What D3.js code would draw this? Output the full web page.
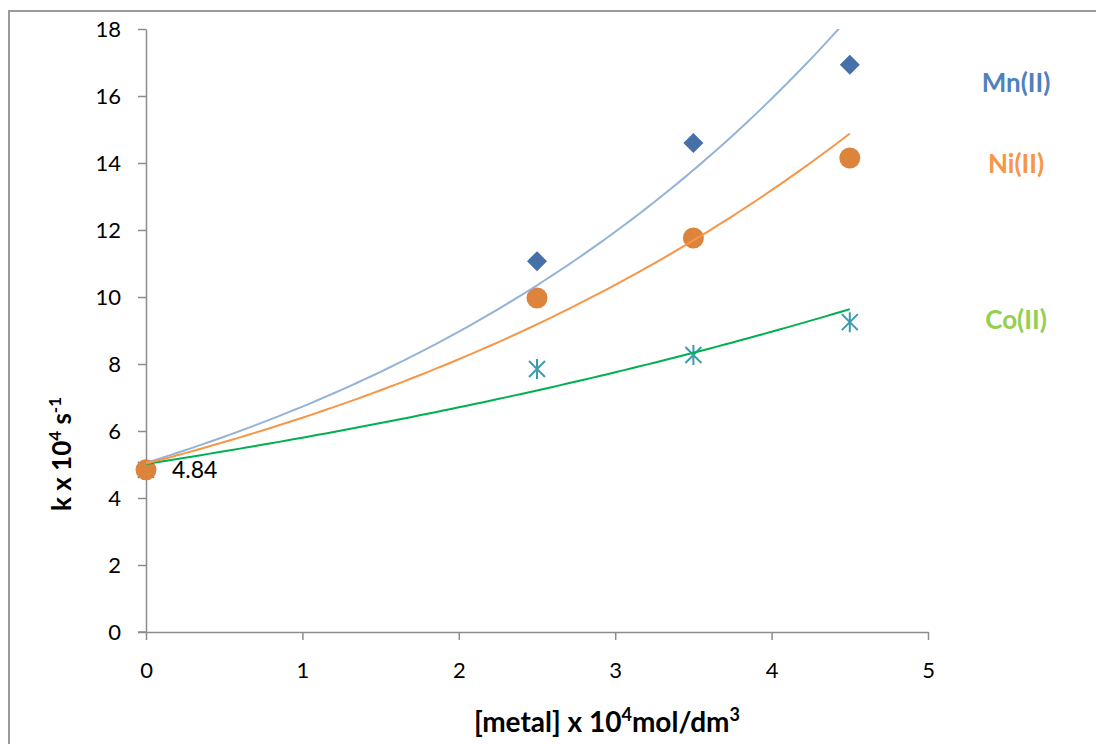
<!DOCTYPE html>
<html>
<head>
<meta charset="utf-8">
<script src="https://cdn.jsdelivr.net/npm/d3@7"></script>
<style>
  body { margin: 0; background: #fff; }
  svg { display: block; font-family: Lato, "Liberation Sans", sans-serif; }
</style>
</head>
<body>
<svg id="chart" width="1096" height="744"></svg>
<script>
// concentration of metal x 10^4 (mol/dm3)
const conc = [0, 2.5, 3.5, 4.5]
// rate constant k x 10^4 (s-1)
const mnK = [4.84, 11.07, 14.6, 16.93]
const niK = [4.84, 9.97, 11.76, 14.15]
const coK = [4.84, 7.85, 8.27, 9.25]

const xTicks = [0, 1, 2, 3, 4, 5]
const yTicks = [0, 2, 4, 6, 8, 10, 12, 14, 16, 18]

const series = [
  { name: 'Mn(II)', k: mnK, marker: 'diamond', fill: '#4570a8', line: '#95b3d7', label: '#4f81bd', ly: 83 },
  { name: 'Co(II)', k: coK, marker: 'star', fill: '#3d9bb0', line: '#00b050', label: '#92d050', ly: 320 },
  { name: 'Ni(II)', k: niK, marker: 'circle', fill: '#dc833c', line: '#f79646', label: '#f79646', ly: 164 }
]

const svg = d3.select('#chart')
const margin = { left: 146, top: 29, right: 168, bottom: 112 }
const width = 1096, height = 744

const x = d3.scaleLinear().domain([0, 5]).range([margin.left, width - margin.right])
const y = d3.scaleLinear().domain([0, 18]).range([height - margin.bottom, margin.top])

// outer frame
svg.append('rect')
  .attr('x', 9).attr('y', 11)
  .attr('width', 1200).attr('height', 800)
  .attr('fill', 'none')
  .attr('stroke', '#9a9a9a')
  .attr('stroke-width', 2)

svg.append('clipPath').attr('id', 'plot')
  .append('rect')
  .attr('x', x(0)).attr('y', y(18))
  .attr('width', x(5) - x(0)).attr('height', y(0) - y(18))

// axes
const xAxis = svg.append('g')
  .attr('transform', `translate(0,${y(0)})`)
  .call(d3.axisBottom(x).tickValues(xTicks).tickFormat(d3.format('d'))
    .tickSize(8).tickSizeOuter(0).tickPadding(22))
const yAxis = svg.append('g')
  .attr('transform', `translate(${x(0)},0)`)
  .call(d3.axisLeft(y).tickValues(yTicks).tickFormat(d3.format('d'))
    .tickSize(8).tickSizeOuter(0).tickPadding(17))

for (const ax of [xAxis, yAxis]) {
  ax.attr('font-family', null)
  ax.select('.domain').attr('stroke', '#8c8c8c').attr('stroke-width', 1.5)
  ax.selectAll('.tick line').attr('stroke', '#8c8c8c').attr('stroke-width', 1.5)
  ax.selectAll('.tick text').attr('fill', '#000').style('font-size', '22px')
}
// x axis line extends left to meet the y tick
xAxis.append('line').attr('x1', x(0) - 8).attr('x2', x(0)).attr('stroke', '#8c8c8c').attr('stroke-width', 1.5)

// markers
function drawMarker(g, s, cx, cy) {
  if (s.marker === 'diamond') {
    g.append('path').attr('d', d3.symbol(d3.symbolSquare, 200)())
      .attr('transform', `translate(${cx},${cy}) rotate(45)`)
      .attr('fill', s.fill)
  } else if (s.marker === 'circle') {
    g.append('circle').attr('cx', cx).attr('cy', cy).attr('r', 10.5).attr('fill', s.fill)
  } else {
    const r = 10
    const p = `M${cx},${cy - r}L${cx},${cy + r}` +
      `M${cx - r * 0.8},${cy - r * 0.8}L${cx + r * 0.8},${cy + r * 0.8}` +
      `M${cx - r * 0.8},${cy + r * 0.8}L${cx + r * 0.8},${cy - r * 0.8}`
    g.append('path').attr('d', p).attr('stroke', s.fill).attr('stroke-width', 2).attr('fill', 'none')
  }
}

const markers = svg.append('g')
series.forEach(s => {
  s.k.forEach((v, i) => drawMarker(markers, s, x(conc[i]), y(v)))
})

// exponential trendlines (least squares on ln k)
function expFit(xs, ys) {
  const ly = ys.map(Math.log)
  const mx = d3.mean(xs), my = d3.mean(ly)
  const sxy = d3.sum(xs, (v, i) => (v - mx) * (ly[i] - my))
  const sxx = d3.sum(xs, v => (v - mx) * (v - mx))
  const b = sxy / sxx
  const a = Math.exp(my - b * mx)
  return t => a * Math.exp(b * t)
}

const trend = svg.append('g').attr('clip-path', 'url(#plot)')
const line = d3.line().x(d => x(d[0])).y(d => y(d[1]))
series.forEach(s => {
  const f = expFit(conc, s.k)
  const pts = d3.range(0, 4.5001, 0.05).map(t => [t, f(t)])
  trend.append('path').attr('d', line(pts))
    .attr('fill', 'none').attr('stroke', s.line).attr('stroke-width', 2)
})

// series labels
series.forEach(s => {
  svg.append('text')
    .attr('x', 1016).attr('y', s.ly)
    .attr('dy', '0.35em')
    .attr('text-anchor', 'middle')
    .attr('font-size', 26).attr('font-weight', 'bold')
    .attr('fill', s.label)
    .text(s.name)
})

// intercept value label
svg.append('text')
  .attr('x', x(0) + 26).attr('y', y(mnK[0]))
  .attr('dy', '0.35em')
  .attr('font-size', 23)
  .text(mnK[0].toFixed(2))

// axis titles
const xt = svg.append('text')
  .attr('x', 607).attr('y', 732)
  .attr('text-anchor', 'middle')
  .attr('font-size', 28).attr('font-weight', 'bold')
xt.append('tspan').text('[metal] x 10')
xt.append('tspan').attr('font-size', 18).attr('dy', -11).text('4')
xt.append('tspan').attr('dy', 11).text('mol/dm')
xt.append('tspan').attr('font-size', 18).attr('dy', -11).text('3')

const yt = svg.append('text')
  .attr('transform', 'translate(71,454) rotate(-90)')
  .attr('text-anchor', 'middle')
  .attr('font-size', 26).attr('font-weight', 'bold')
yt.append('tspan').text('k x 10')
yt.append('tspan').attr('font-size', 17).attr('dy', -10).text('4')
yt.append('tspan').attr('dy', 10).text(' s')
yt.append('tspan').attr('font-size', 17).attr('dy', -10).text('-1')
</script>
</body>
</html>
